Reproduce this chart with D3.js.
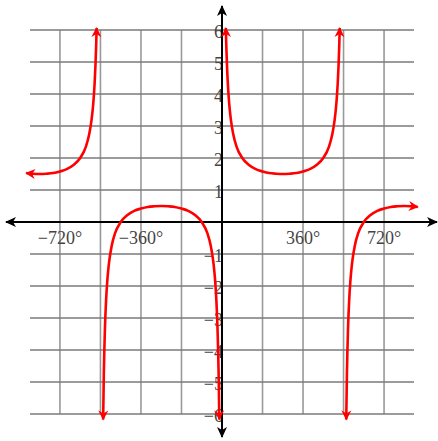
<!DOCTYPE html>
<html>
<head>
<meta charset="utf-8">
<script src="https://cdn.jsdelivr.net/npm/d3@7"></script>
<style>
    body { margin: 0; background: #fff; }
    svg { display: block; }
    .tick-label { font-family: "Liberation Serif", "Times New Roman", serif; font-size: 18px; fill: #444; }
</style>
</head>
<body>
<div id="chart"></div>
<script>
// tick values (degrees on x, units on y)
var xTicks = [-720, -540, -360, -180, 180, 360, 540, 720];
var xLabelTicks = [-720, -360, 360, 720];
var xLabels = ["\u2212720\u00b0", "\u2212360\u00b0", "360\u00b0", "720\u00b0"];
var yTicks = [-6, -5, -4, -3, -2, -1, 1, 2, 3, 4, 5, 6];
var yLabels = ["\u22126", "\u22125", "\u22124", "\u22123", "\u22122", "\u22121", "1", "2", "3", "4", "5", "6"];

// branches of the curve: [degrees, y]
var branch1 = [[-870, 1.53], [-840, 1.51], [-810, 1.5], [-780, 1.51], [-750, 1.53], [-720, 1.58], [-690, 1.65],
    [-660, 1.78], [-630, 2.0], [-605, 2.35], [-590, 2.74], [-580, 3.17], [-575, 3.47], [-570, 3.88], [-566, 4.32],
    [-562, 4.92], [-559, 5.53], [-557, 6.06]];
var branch2 = [[-528, -6.17], [-525, -4.74], [-520, -3.31], [-515, -2.45], [-510, -1.88], [-505, -1.47], [-500, -1.17],
    [-490, -0.74], [-475, -0.35], [-450, 0.0], [-420, 0.22], [-390, 0.35], [-360, 0.42], [-330, 0.47], [-300, 0.49],
    [-270, 0.5], [-240, 0.49], [-210, 0.47], [-180, 0.42], [-150, 0.35], [-120, 0.22], [-90, 0.0], [-65, -0.35],
    [-50, -0.74], [-40, -1.17], [-35, -1.47], [-30, -1.88], [-25, -2.45], [-20, -3.31], [-15, -4.74], [-12, -6.17]];
var branch3 = [[17, 6.06], [19, 5.53], [22, 4.92], [26, 4.32], [30, 3.88], [35, 3.47], [40, 3.17], [50, 2.74],
    [65, 2.35], [90, 2.0], [120, 1.78], [150, 1.65], [180, 1.58], [210, 1.53], [240, 1.51], [270, 1.5],
    [300, 1.51], [330, 1.53], [360, 1.58], [390, 1.65], [420, 1.78], [450, 2.0], [475, 2.35], [490, 2.74],
    [500, 3.17], [505, 3.47], [510, 3.88], [514, 4.32], [518, 4.92], [521, 5.53], [523, 6.06]];
var branch4 = [[552, -6.17], [555, -4.74], [560, -3.31], [565, -2.45], [570, -1.88], [575, -1.47], [580, -1.17],
    [590, -0.74], [605, -0.35], [630, 0.0], [660, 0.22], [690, 0.35], [720, 0.42], [750, 0.47], [780, 0.49],
    [810, 0.5], [840, 0.49], [870, 0.47]];

var width = 438, height = 441;

var xScale = d3.scaleLinear().domain([-853, 853]).range([30, 414]);
var yScale = d3.scaleLinear().domain([-6, 6]).range([414, 30]);

var svg = d3.select("#chart")
    .append("svg")
    .attr("width", width)
    .attr("height", height);

var defs = svg.append("defs");

// arrow heads
defs.append("marker")
    .attr("id", "redArrow")
    .attr("markerUnits", "userSpaceOnUse")
    .attr("viewBox", "-11 -6 12 12")
    .attr("refX", -1)
    .attr("refY", 0)
    .attr("markerWidth", 12)
    .attr("markerHeight", 12)
    .attr("orient", "auto-start-reverse")
    .append("path")
    .attr("d", "M0,0 L-10,-5 L-7,0 L-10,5 Z")
    .attr("fill", "#ff0000");

defs.append("marker")
    .attr("id", "blackArrow")
    .attr("markerUnits", "userSpaceOnUse")
    .attr("viewBox", "-12 -6 13 12")
    .attr("refX", -1)
    .attr("refY", 0)
    .attr("markerWidth", 13)
    .attr("markerHeight", 12)
    .attr("orient", "auto-start-reverse")
    .append("path")
    .attr("d", "M0,0 L-11,-5 L-8,0 L-11,5 Z")
    .attr("fill", "#000");

// grid
var grid = svg.append("g");
grid.selectAll(".vgrid")
    .data(xTicks)
    .join("line")
    .attr("x1", function (d) { return xScale(d); })
    .attr("x2", function (d) { return xScale(d); })
    .attr("y1", yScale(6))
    .attr("y2", yScale(-6))
    .style("stroke", "#999")
    .style("stroke-width", 1.6);

grid.selectAll(".hgrid")
    .data(yTicks)
    .join("line")
    .attr("x1", xScale(-853))
    .attr("x2", xScale(853))
    .attr("y1", function (d) { return yScale(d); })
    .attr("y2", function (d) { return yScale(d); })
    .style("stroke", "#7a7a7a")
    .style("stroke-width", 1.6);

// tick labels
svg.append("g").selectAll("text")
    .data(xLabelTicks)
    .join("text")
    .attr("class", "tick-label")
    .attr("x", function (d) { return xScale(d); })
    .attr("y", yScale(0) + 22)
    .attr("text-anchor", "middle")
    .text(function (d, i) { return xLabels[i]; });

svg.append("g").selectAll("text")
    .data(yTicks)
    .join("text")
    .attr("class", "tick-label")
    .attr("x", xScale(0) + 1)
    .attr("y", function (d) { return yScale(d) + 8; })
    .attr("text-anchor", "end")
    .text(function (d, i) { return yLabels[i]; });

// axes
svg.append("line")
    .attr("x1", 6).attr("y1", yScale(0))
    .attr("x2", 437).attr("y2", yScale(0))
    .style("stroke", "#000")
    .style("stroke-width", 2)
    .attr("marker-start", "url(#blackArrow)")
    .attr("marker-end", "url(#blackArrow)");

svg.append("line")
    .attr("x1", xScale(0)).attr("y1", 6)
    .attr("x2", xScale(0)).attr("y2", 437)
    .style("stroke", "#000")
    .style("stroke-width", 2)
    .attr("marker-start", "url(#blackArrow)")
    .attr("marker-end", "url(#blackArrow)");

// curve
var line = d3.line()
    .x(function (d) { return xScale(d[0]); })
    .y(function (d) { return yScale(d[1]); })
    .curve(d3.curveMonotoneX);

svg.append("g").selectAll("path")
    .data([branch1, branch2, branch3, branch4])
    .join("path")
    .attr("d", line)
    .style("fill", "none")
    .style("stroke", "#ff0000")
    .style("stroke-width", 2.6)
    .attr("marker-start", "url(#redArrow)")
    .attr("marker-end", "url(#redArrow)");
</script>
</body>
</html>
